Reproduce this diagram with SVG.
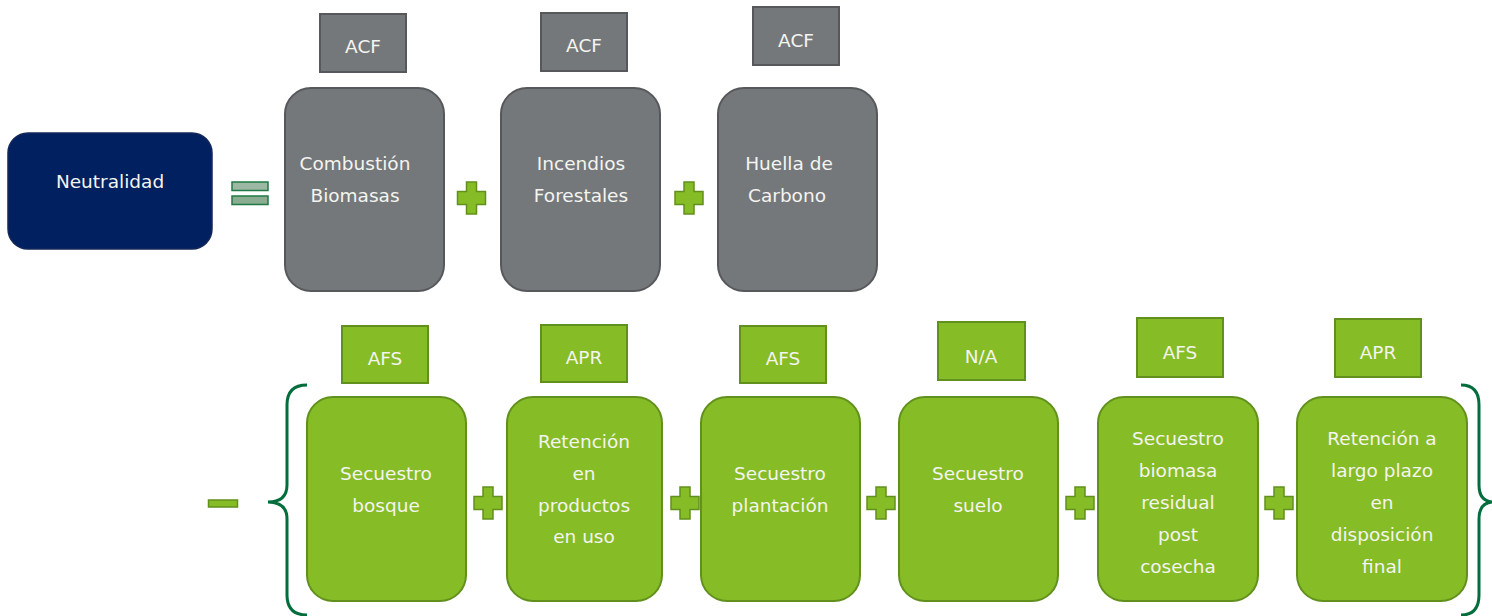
<svg xmlns="http://www.w3.org/2000/svg" xmlns:xlink="http://www.w3.org/1999/xlink" width="1492" height="616" viewBox="0 0 1492 616">
<style>
text{font-family:"DejaVu Sans","Liberation Sans",sans-serif;font-size:18.5px;fill:#f4f4f0;text-anchor:middle}
.gray{fill:#75787b;stroke:#56585b;stroke-width:2}
.green{fill:#86bc26;stroke:#62901c;stroke-width:2}
.navy{fill:#002060;stroke:#14275a;stroke-width:1.5}
.plus{fill:#86bc26;stroke:#62901c;stroke-width:1.5}
.brace{fill:none;stroke:#036d3c;stroke-width:3}
</style>
<defs>
<path id="plus" d="M-5,-16 H5 V-6.5 H14 V6.5 H5 V16 H-5 V6.5 H-14 V-6.5 H-5 Z"/>
</defs>
<rect width="1492" height="616" fill="#ffffff"/>

<g id="neutralidad">
<rect class="navy" x="8" y="133" width="204" height="116" rx="20"/>
<text x="110" y="188">Neutralidad</text>
</g>

<g id="operators">
<rect x="232" y="182" width="36" height="8.5" fill="#9cb8a2" stroke="#1f7a45" stroke-width="1.5"/>
<rect x="232" y="196" width="36" height="8.5" fill="#8aac90" stroke="#1f7a45" stroke-width="1.5"/>
<use href="#plus" class="plus" x="471.5" y="198"/>
<use href="#plus" class="plus" x="689" y="198"/>
<rect class="plus" x="208.5" y="500" width="29" height="7"/>
<use href="#plus" class="plus" x="488" y="503"/>
<use href="#plus" class="plus" x="685" y="503"/>
<use href="#plus" class="plus" x="881" y="503"/>
<use href="#plus" class="plus" x="1080" y="503"/>
<use href="#plus" class="plus" x="1279" y="503"/>
</g>

<g id="connectors">
<path class="brace" d="M307,385 Q287,385 287,405 L287,485 Q287,502 268,502 Q287,502 287,519 L287,595 Q287,615 307,615"/>
<path class="brace" d="M1461,385 Q1479,385 1479,405 L1479,485 Q1479,502 1494,502 Q1479,502 1479,519 L1479,595 Q1479,615 1461,615"/>
</g>

<g id="acf1">
<rect class="gray" x="320" y="14" width="86" height="58"/>
<text x="363" y="53">ACF</text>
</g>
<g id="acf2">
<rect class="gray" x="541" y="13" width="86" height="58"/>
<text x="584" y="52">ACF</text>
</g>
<g id="acf3">
<rect class="gray" x="753" y="7" width="86" height="58"/>
<text x="796" y="47">ACF</text>
</g>

<g id="combustion">
<rect class="gray" x="285" y="88" width="159" height="203" rx="26"/>
<text x="355" y="170">Combustión</text>
<text x="355" y="202">Biomasas</text>
</g>
<g id="incendios">
<rect class="gray" x="501" y="88" width="159" height="203" rx="26"/>
<text x="581" y="170">Incendios</text>
<text x="581" y="202">Forestales</text>
</g>
<g id="huella">
<rect class="gray" x="718" y="88" width="159" height="203" rx="26"/>
<text x="789" y="170">Huella de</text>
<text x="787" y="202">Carbono</text>
</g>

<g id="afs1">
<rect class="green" x="342" y="326" width="86" height="57"/>
<text x="385" y="365">AFS</text>
</g>
<g id="apr2">
<rect class="green" x="541" y="325" width="86" height="57"/>
<text x="584" y="364">APR</text>
</g>
<g id="afs3">
<rect class="green" x="740" y="326" width="86" height="57"/>
<text x="783" y="365">AFS</text>
</g>
<g id="na4">
<rect class="green" x="938" y="322" width="87" height="58"/>
<text x="981" y="363">N/A</text>
</g>
<g id="afs5">
<rect class="green" x="1137" y="318" width="86" height="59"/>
<text x="1180" y="359">AFS</text>
</g>
<g id="apr6">
<rect class="green" x="1335" y="319" width="86" height="58"/>
<text x="1378" y="359">APR</text>
</g>

<g id="secuestro-bosque">
<rect class="green" x="307" y="397" width="159" height="204" rx="26"/>
<text x="386" y="480">Secuestro</text>
<text x="386" y="512">bosque</text>
</g>
<g id="retencion-productos">
<rect class="green" x="507" y="397" width="155" height="204" rx="26"/>
<text x="584" y="448">Retención</text>
<text x="584" y="480">en</text>
<text x="584" y="512">productos</text>
<text x="584" y="543">en uso</text>
</g>
<g id="secuestro-plantacion">
<rect class="green" x="701" y="397" width="159" height="204" rx="26"/>
<text x="780" y="480">Secuestro</text>
<text x="780" y="512">plantación</text>
</g>
<g id="secuestro-suelo">
<rect class="green" x="899" y="397" width="159" height="204" rx="26"/>
<text x="978" y="480">Secuestro</text>
<text x="978" y="512">suelo</text>
</g>
<g id="secuestro-biomasa">
<rect class="green" x="1098" y="397" width="160" height="204" rx="26"/>
<text x="1178" y="445">Secuestro</text>
<text x="1178" y="477">biomasa</text>
<text x="1178" y="509">residual</text>
<text x="1178" y="541">post</text>
<text x="1178" y="573">cosecha</text>
</g>
<g id="retencion-largo-plazo">
<rect class="green" x="1297" y="397" width="170" height="204" rx="26"/>
<text x="1382" y="445">Retención a</text>
<text x="1382" y="477">largo plazo</text>
<text x="1382" y="509">en</text>
<text x="1382" y="541">disposición</text>
<text x="1382" y="573">final</text>
</g>
</svg>
